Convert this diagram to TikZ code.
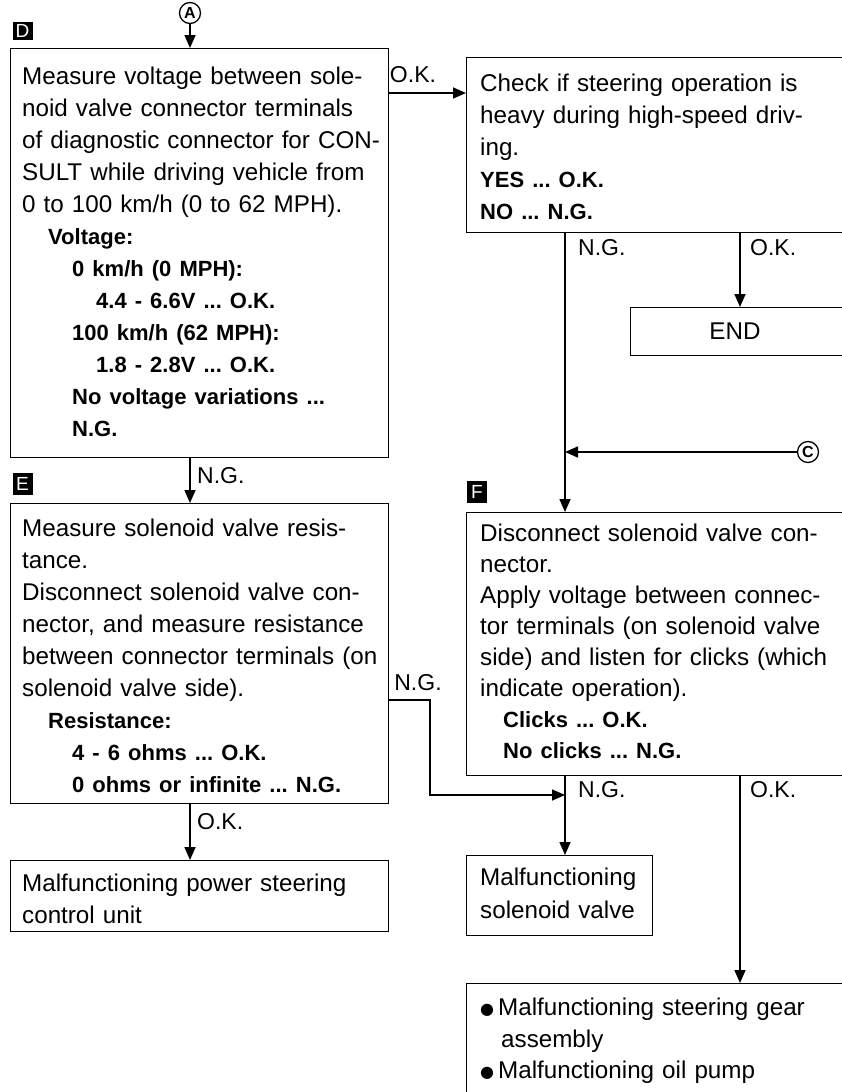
\documentclass[tikz,border=0pt]{standalone}
\usepackage{fontspec}
\setmainfont{Liberation Sans}
\newfontfamily\bulletfont{DejaVu Sans}
\usetikzlibrary{arrows.meta}
\newcommand{\bx}[1]{{\fontsize{22}{32}\selectfont\bfseries #1}}
\newcommand{\ind}[1]{\hspace*{#1pt}}
\newcommand{\blt}{{\bulletfont\fontsize{16}{20}\selectfont\raisebox{1pt}{●}}\hspace{4pt}}
\frenchspacing
\begin{document}
\begin{tikzpicture}[x=1pt,y=-1pt,
  box/.style={draw, line width=1.4pt, rectangle, inner sep=0pt, anchor=north west},
  txt/.style={anchor=north west, inner sep=0pt, text width=#1, align=left, font=\fontsize{24.2}{32}\selectfont},
  txt/.default=370pt,
  lab/.style={inner sep=0pt, font=\fontsize{23}{23}\selectfont},
  circ/.style={draw, circle, line width=1.3pt, inner sep=0pt, minimum size=21pt, font=\fontsize{16}{16}\selectfont\bfseries},
  tag/.style={fill=black, text=white, inner sep=0pt, minimum width=20pt, font=\fontsize{19}{19}\selectfont},
  arr/.style={draw, line width=1.6pt, -{Triangle[length=13pt,width=11pt]}}]
\useasboundingbox (0,0) rectangle (842,1092);
\clip (0,0) rectangle (842,1092);

% column coordinates
\coordinate (cN) at (565,0);
\coordinate (cO) at (740,0);
\coordinate (okrow) at (0,93);
\coordinate (bendA) at (430,700);
\coordinate (join) at (565,795);

% markers
\node[circ] (A) at (190,13) {A};
\node[tag, minimum height=18pt] (Dm) at (22.5,31) {D};
\node[tag, minimum height=22pt] (Em) at (22.5,484) {E};
\node[tag, minimum height=22pt] (Fm) at (477,492) {F};
\node[circ] (C) at (808,452) {C};

% boxes
\node[box, minimum width=378pt, minimum height=409pt] (D) at (10,48) {};
\node[box, minimum width=378pt, minimum height=300pt] (E) at (10,503) {};
\node[box, minimum width=378pt, minimum height=71pt] (P) at (10,860) {};
\node[box, minimum width=394pt, minimum height=175pt] (K) at (466,57) {};
\node[box, minimum width=230pt, minimum height=48pt] (END) at (630,307) {};
\node[box, minimum width=394pt, minimum height=263pt] (F) at (466,512) {};
\node[box, minimum width=186pt, minimum height=80pt] (S) at (466,855) {};
\node[box, minimum width=394pt, minimum height=140pt] (M) at (466,983) {};

% texts
\node[txt] (Dt) at (22,61.4) {\strut Measure voltage between sole-\\
noid valve connector terminals\\
of diagnostic connector for CON-\\
SULT while driving vehicle from\\
0 to 100 km/h (0 to 62 MPH).\\
\ind{26}\bx{Voltage:}\\
\ind{50}\bx{0 km/h (0 MPH):}\\
\ind{74}\bx{4.4 - 6.6V ... O.K.}\\
\ind{50}\bx{100 km/h (62 MPH):}\\
\ind{74}\bx{1.8 - 2.8V ... O.K.}\\
\ind{50}\bx{No voltage variations ...}\\
\ind{50}\bx{N.G.}};

\node[txt] (Et) at (22,513.4) {\strut Measure solenoid valve resis-\\
tance.\\
Disconnect solenoid valve con-\\
nector, and measure resistance\\
between connector terminals (on\\
solenoid valve side).\\
\ind{26}\bx{Resistance:}\\
\ind{50}\bx{4 - 6 ohms ... O.K.}\\
\ind{50}\bx{0 ohms or infinite ... N.G.}};

\node[txt] (Pt) at (22,868.4) {\strut Malfunctioning power steering\\
control unit};

\node[txt] (Kt) at (480,68.4) {\strut Check if steering operation is\\
heavy during high-speed driv-\\
ing.\\
\bx{YES ... O.K.}\\
\bx{NO ... N.G.}};

\node[lab] (ENDt) at (735,331) {\fontsize{24.2}{30}\selectfont END};

\node[txt, font=\fontsize{24.2}{31}\selectfont] (Ft) at (480,519.4) {\strut Disconnect solenoid valve con-\\
nector.\\
Apply voltage between connec-\\
tor terminals (on solenoid valve\\
side) and listen for clicks (which\\
indicate operation).\\
\ind{23}\bx{Clicks ... O.K.}\\
\ind{23}\bx{No clicks ... N.G.}};

\node[txt, text width=170pt, font=\fontsize{24.2}{33}\selectfont] (St) at (480,862.4) {\strut Malfunctioning\\
solenoid valve};

\node[txt, font=\fontsize{24.2}{31.5}\selectfont] (Mt) at (480,993.4) {\strut\blt Malfunctioning steering gear\\
\ind{21}assembly\\
\blt Malfunctioning oil pump};

% connectors
\draw[arr] (A.south) -- (A.south |- D.north);
\draw[arr] (D.east |- okrow) -- (K.west |- okrow);
\draw[arr] (D.south -| A) -- (E.north -| A);
\draw[arr] (E.south -| A) -- (P.north -| A);
\draw[arr] (K.south -| cN) -- (F.north -| cN);
\draw[arr] (K.south -| cO) -- (END.north -| cO);
\draw[arr] (C.west) -- (C.west -| cN);
\draw[arr] (E.east |- bendA) -- (bendA) |- (join);
\draw[arr] (F.south -| cN) -- (S.north -| cN);
\draw[arr] (F.south -| cO) -- (M.north -| cO);

% connector labels
\node[lab] (l1) at (413,75) {O.K.};
\node[lab, anchor=west] (l2) at (197,476) {N.G.};
\node[lab, anchor=west] (l3) at (578,248) {N.G.};
\node[lab, anchor=west] (l4) at (750,248) {O.K.};
\node[lab] (l5) at (418,683) {N.G.};
\node[lab, anchor=west] (l6) at (197,822) {O.K.};
\node[lab, anchor=west] (l7) at (578,790) {N.G.};
\node[lab, anchor=west] (l8) at (750,790) {O.K.};
\end{tikzpicture}
\end{document}
